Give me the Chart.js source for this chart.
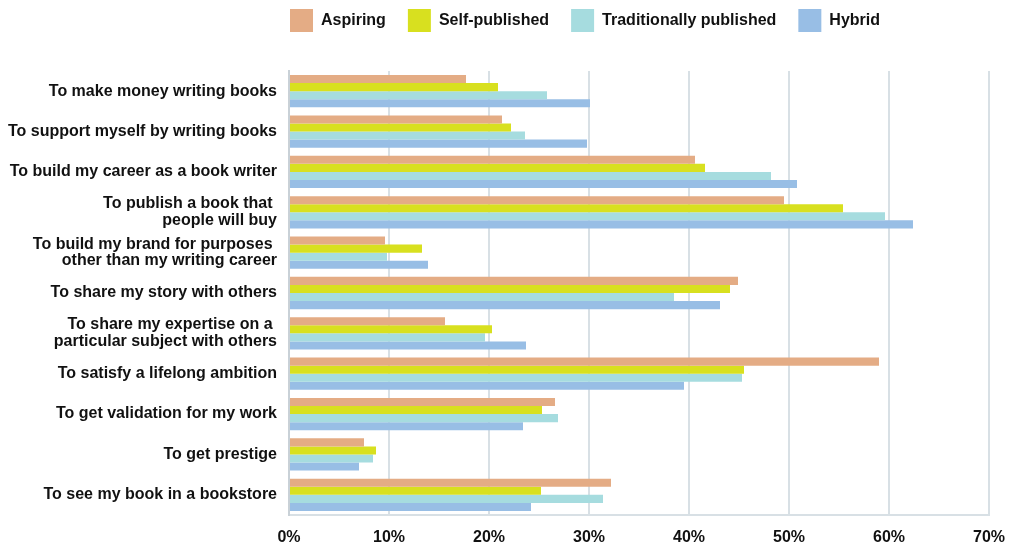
<!DOCTYPE html>
<html>
<head>
<meta charset="utf-8">
<script src="https://cdn.jsdelivr.net/npm/chart.js@4"></script>
<style>
  body { margin: 0; background: #fff; }
  #wrap { width: 1011px; height: 546px; }
</style>
</head>
<body>
<div id="wrap"><canvas id="goalsChart"></canvas></div>
<script>
// categories, top to bottom
const categories = [
    "To make money writing books",
    "To support myself by writing books",
    "To build my career as a book writer",
    ["To publish a book that ", "people will buy"],
    ["To build my brand for purposes ", "other than my writing career"],
    "To share my story with others",
    ["To share my expertise on a ", "particular subject with others"],
    "To satisfy a lifelong ambition",
    "To get validation for my work",
    "To get prestige",
    "To see my book in a bookstore"
]

// percent of respondents
const aspiring = [17.7, 21.3, 40.6, 49.5, 9.6, 44.9, 15.6, 59.0, 26.6, 7.5, 32.2]
const selfPublished = [20.9, 22.2, 41.6, 55.4, 13.3, 44.1, 20.3, 45.5, 25.3, 8.7, 25.2]
const traditionallyPublished = [25.8, 23.6, 48.2, 59.6, 9.8, 38.5, 19.6, 45.3, 26.9, 8.4, 31.4]
const hybrid = [30.1, 29.8, 50.8, 62.4, 13.9, 43.1, 23.7, 39.5, 23.4, 7.0, 24.2]

const xTicks = [0, 10, 20, 30, 40, 50, 60, 70]

const font = "'Liberation Sans', Arial, Helvetica, sans-serif"

// legend sits over the plot, plot starts further down
const legendPlace = {
    id: "legendPlace",
    beforeLayout(chart){
        const legend = chart.legend
        if(!legend || legend._gapDone) return
        const fit = legend.fit
        legend.fit = function(){
            fit.call(this)
            this.height += 29
        }
        legend._gapDone = true
    },
    afterLayout(chart){
        if(chart.legend) chart.legend.left = 181
    }
}

let chart = new Chart(document.getElementById("goalsChart"), {
    type: "bar",
    data: {
        labels: categories,
        datasets: [
            { label: "Aspiring", data: aspiring, backgroundColor: "#e4ac85" },
            { label: "Self-published", data: selfPublished, backgroundColor: "#d8e01f" },
            { label: "Traditionally published", data: traditionallyPublished, backgroundColor: "#a6dcdf" },
            { label: "Hybrid", data: hybrid, backgroundColor: "#98bee5" }
        ]
    },
    options: {
        indexAxis: "y",
        responsive: true,
        maintainAspectRatio: false,
        animation: false,
        datasets: {
            bar: { categoryPercentage: 0.8, barPercentage: 1.0, borderWidth: 0 }
        },
        layout: {
            padding: { left: 0, right: 22, top: -13, bottom: 2 }
        },
        plugins: {
            tooltip: { enabled: false },
            legend: {
                position: "top",
                labels: {
                    boxWidth: 23,
                    boxHeight: 23,
                    padding: 22,
                    color: "#111",
                    font: { family: font, size: 16, weight: "bold" }
                }
            }
        },
        scales: {
            x: {
                min: 0,
                max: 70,
                afterBuildTicks(scale){
                    scale.ticks = xTicks.map(v => ({ value: v }))
                },
                afterFit(scale){
                    scale.height = 29
                    scale.paddingLeft = 0
                    scale.paddingRight = 0
                },
                ticks: {
                    callback: v => v + "%",
                    color: "#111",
                    padding: 13,
                    font: { family: font, size: 16, weight: "bold" }
                },
                grid: {
                    drawTicks: false,
                    lineWidth: 2,
                    color: ctx => ctx.index === 0 ? "#c9d1d7" : "#d8e0e5"
                },
                border: { display: true, color: "#d8e0e5", width: 2 }
            },
            y: {
                afterFit(scale){
                    scale.width = 289
                    scale.paddingTop = 0
                    scale.paddingBottom = 0
                },
                ticks: {
                    autoSkip: false,
                    color: "#111",
                    padding: 12,
                    font: { family: font, size: 16, weight: "bold", lineHeight: 1.05 }
                },
                grid: { display: false, drawTicks: false },
                border: { display: true, color: "#c9d1d7", width: 2 }
            }
        }
    },
    plugins: [legendPlace]
})
</script>
</body>
</html>
